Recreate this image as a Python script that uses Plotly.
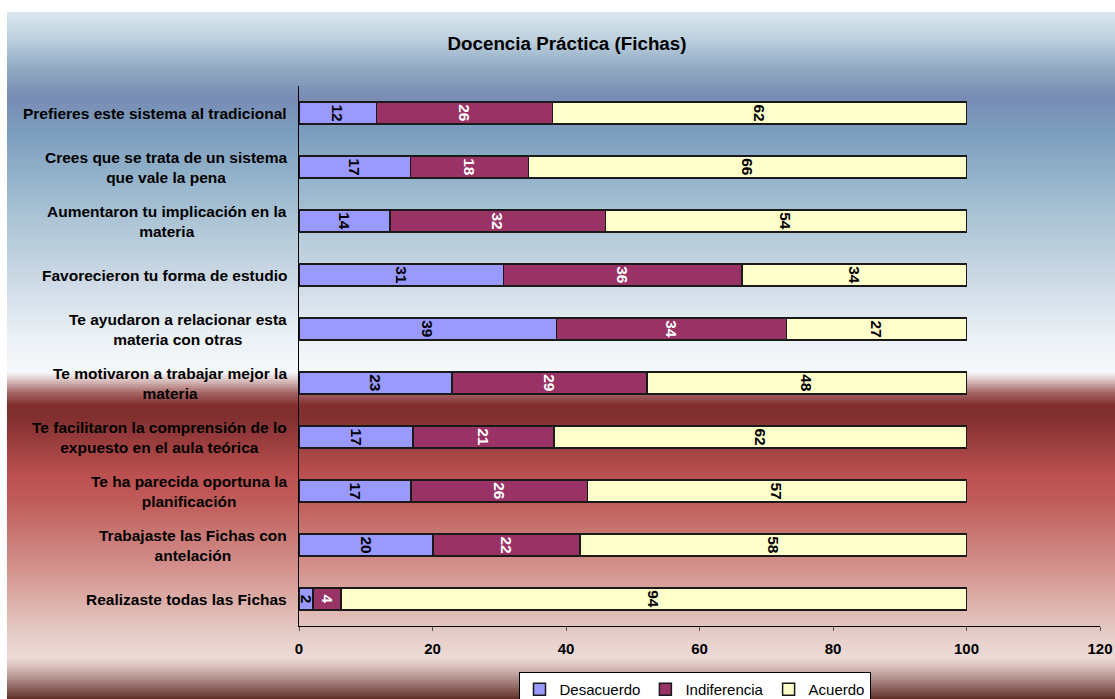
import plotly.graph_objects as go
import numpy as np

# ---------------- data ----------------
categories = [
    "Prefieres este sistema al tradicional",
    "Crees que se trata de un sistema<br>que vale la pena",
    "Aumentaron tu implicación en la<br>materia",
    "Favorecieron tu forma de estudio",
    "Te ayudaron a relacionar esta<br>materia con otras",
    "Te motivaron a trabajar mejor la<br>materia",
    "Te facilitaron la comprensión de lo<br>expuesto en el aula teórica",
    "Te ha parecida oportuna la<br>planificación",
    "Trabajaste las Fichas con<br>antelación",
    "Realizaste todas las Fichas",
]
desacuerdo = [11.6, 16.7, 13.6, 30.6, 38.6, 22.9, 17.1, 16.8, 20.1, 2.1]
indiferencia = [26.4, 17.7, 32.3, 35.8, 34.4, 29.2, 21.1, 26.4, 22.0, 4.2]
acuerdo = [62.0, 65.6, 54.1, 33.6, 27.0, 47.9, 61.8, 56.8, 57.9, 93.7]
series_names = ["Desacuerdo", "Indiferencia", "Acuerdo"]
title_text = "Docencia Práctica (Fichas)"

# ---------------- style ----------------
W, H = 1115, 699
ML, MR, MT, MB = 299, 15, 86, 73
FONT = "Arial, Liberation Sans, Helvetica, sans-serif"
colors = ["#9999FF", "#993366", "#FFFFCC"]
text_colors = ["#000000", "#FFFFFF", "#000000"]

fig = go.Figure()
for name, vals, col, tcol in zip(series_names, [desacuerdo, indiferencia, acuerdo], colors, text_colors):
    fig.add_trace(go.Bar(
        name=name, y=categories, x=vals, orientation="h",
        marker=dict(color=col, line=dict(color="#1a1a1a", width=1.5)),
        texttemplate="%{x:.0f}", textposition="inside", insidetextanchor="middle",
        textangle=90, constraintext="none",
        textfont=dict(family=FONT, size=15.5, color=tcol, weight="bold"),
        hoverinfo="skip",
    ))

# ---------------- background gradient (decoration) ----------------
stops = [
    (12, "#dae7f0"), (40, "#bccfdd"), (70, "#8ea8c2"), (97, "#7a8cb4"),
    (130, "#7b9cbd"), (175, "#92b2ca"), (230, "#b2c8d8"), (290, "#d2dde8"),
    (340, "#ecf1f6"), (372, "#f6f9fb"), (380, "#dcc4c4"), (392, "#a86a6a"),
    (405, "#822f30"), (415, "#7f2e2e"), (440, "#983c3c"), (470, "#b94e4e"),
    (500, "#c05a58"), (535, "#c97874"), (570, "#d4928e"), (600, "#dcaea8"),
    (635, "#e6cdc8"), (657, "#ecdad6"), (666, "#dcc4c0"), (681, "#a88480"),
    (699, "#603028"),
]
sy = np.array([s[0] for s in stops], dtype=float)
rgb = np.array([[int(c[i:i + 2], 16) for i in (1, 3, 5)] for _, c in stops], dtype=float)

def px_to_py(py):
    return (H - MB - py) / (H - MT - MB)

def px_to_px(px):
    return (px - ML) / (W - ML - MR)

shapes = []
step = 2
for y in range(12, 699, step):
    yc = y + step / 2
    c = [np.interp(yc, sy, rgb[:, k]) for k in range(3)]
    col = "rgb(%d,%d,%d)" % tuple(int(round(v)) for v in c)
    shapes.append(dict(
        type="rect", xref="paper", yref="paper", layer="below",
        x0=px_to_px(7), x1=px_to_px(W + 2),
        y0=px_to_py(y), y1=px_to_py(min(y + step + 0.6, 700)),
        fillcolor=col, line=dict(width=0),
    ))

# ---------------- category labels (centered multi-line, right-anchored) ----------------
annotations = []
for cat in categories:
    annotations.append(dict(
        x=-0.012, xref="paper", y=cat, yref="y", xanchor="right", yanchor="middle",
        text="<br>".join("<b>%s</b>" % ln for ln in cat.split("<br>")),
        showarrow=False, align="center",
        font=dict(family=FONT, size=15.5, color="#000"),
    ))

fig.update_layout(
    width=W, height=H,
    margin=dict(l=ML, r=MR, t=MT, b=MB, pad=0, autoexpand=False),
    paper_bgcolor="white", plot_bgcolor="rgba(0,0,0,0)",
    barmode="stack", bargap=0.59,
    title=dict(text="<b>%s</b>" % title_text, x=567 / W, xref="container",
               y=1 - 43 / H, yanchor="middle", xanchor="center",
               font=dict(family=FONT, size=18.8, color="#000")),
    xaxis=dict(range=[0, 120], dtick=20, showgrid=False, zeroline=False, automargin=False,
               showline=True, linecolor="#000", linewidth=1,
               ticks="outside", ticklen=4, tickcolor="#555", ticklabelstandoff=5,
               tickfont=dict(family=FONT, size=15, color="#000", weight="bold")),
    yaxis=dict(autorange="reversed", showticklabels=False, showgrid=False, zeroline=False,
               automargin=False,
               showline=True, linecolor="#000", linewidth=1, ticks=""),
    legend=dict(orientation="h", x=694.5 / W, xref="container", xanchor="center",
                y=1 - 672 / H, yref="container", yanchor="top",
                bgcolor="white", bordercolor="#000", borderwidth=1,
                font=dict(family=FONT, size=15, color="#000"),
                itemwidth=30, tracegroupgap=0, traceorder="normal"),
    uniformtext=dict(minsize=15.5, mode="show"),
    shapes=shapes, annotations=annotations,
    showlegend=True,
)

fig.write_html("out.html")
